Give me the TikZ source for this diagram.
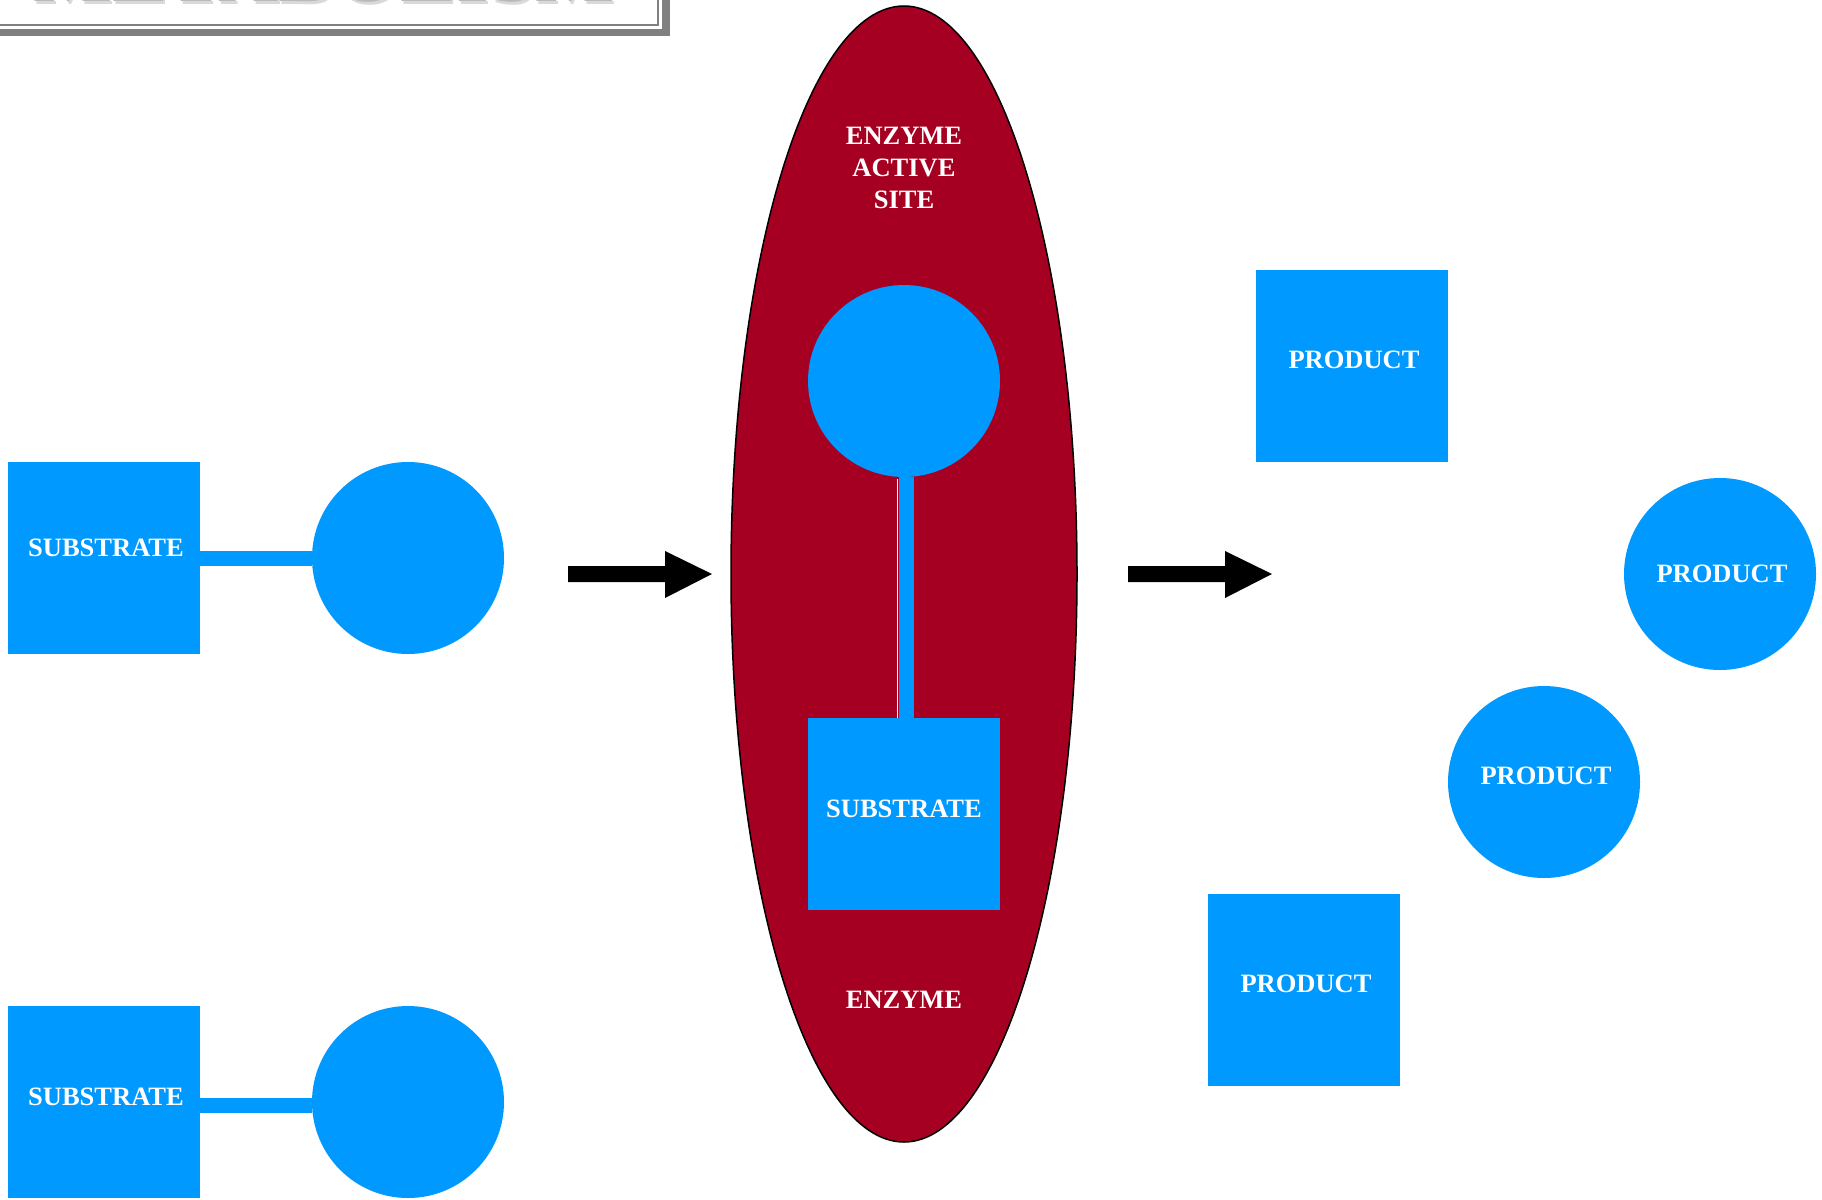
\documentclass[tikz,border=0pt]{standalone}
\usepackage{fontspec}
\setmainfont{Liberation Serif}
\usetikzlibrary{shapes.geometric}
\definecolor{molblue}{HTML}{0099FF}
\definecolor{enzred}{HTML}{A50021}
\definecolor{framegray}{HTML}{808080}
\begin{document}
\begin{tikzpicture}[x=1pt,y=-1pt,
  sqbox/.style={rectangle,fill=molblue,minimum size=192pt,inner sep=0pt,draw=none},
  molcirc/.style={circle,fill=molblue,minimum size=192pt,inner sep=0pt,draw=none},
  lbl/.style={text=white,font=\bfseries\fontsize{26.5}{32}\selectfont,align=center,inner sep=0pt},
  bond/.style={draw=molblue,line width=15pt},
  titletext/.style={font=\bfseries\fontsize{84}{90}\selectfont,anchor=base west,inner sep=0pt},
  blockarrow/.style={fill=black,draw=none}]
\useasboundingbox (0,0) rectangle (1822,1199);

% title frame (cut off at the top)
\fill[framegray] (-10,29) rectangle (670,36);
\fill[framegray] (662,-60) rectangle (670,36);
\draw[framegray,line width=1.5pt] (-10,25) -- (658,25) -- (658,-60);
\node[titletext,text=gray!30] (titleshadow) at (35,4.5) {METABOLISM};
\node[titletext,text=gray!55] (title) at (33,2) {METABOLISM};

% substrates on the left
\node[sqbox] (s1) at (104,558) {};
\node[molcirc] (c1) at (408,558) {};
\draw[bond] (s1.east) -- (c1.west);
\node[lbl] (s1t) at (106,548) {SUBSTRATE};

\node[sqbox] (s2) at (104,1102) {};
\node[molcirc] (c2) at (408,1102) {};
\draw[bond] ([yshift=-3pt]s2.east) -- ([yshift=-3pt]c2.west);
\node[lbl] (s2t) at (106,1097) {SUBSTRATE};

% arrow 1
\fill[blockarrow] (568,566) -- (665,566) -- (665,551) -- (712,574) -- (665,598) -- (665,582) -- (568,582) -- cycle;

% enzyme
\node[ellipse,fill=enzred,draw=black,line width=1.5pt,minimum width=346pt,minimum height=1136pt,inner sep=0pt] (enz) at (904,574) {};
\node[lbl] (ast) at (904,168) {ENZYME\\ACTIVE\\SITE};
\node[molcirc] (ec) at (904,381) {};
\node[sqbox] (es) at (904,814) {};
\draw[bond] ([xshift=2.5pt]ec.south) -- ([xshift=2.5pt]es.north);
\draw[white,line width=1.2pt] ([xshift=-6.5pt,yshift=-2pt]ec.south) -- ([xshift=-6.5pt]es.north);
\node[lbl] (est) at (904,809) {SUBSTRATE};
\node[lbl] (enzt) at (904,1000) {ENZYME};

% arrow 2
\fill[blockarrow] (1128,566) -- (1225,566) -- (1225,551) -- (1272,574) -- (1225,598) -- (1225,582) -- (1128,582) -- cycle;

% products
\node[sqbox] (p1) at (1352,366) {};
\node[lbl] (p1t) at (1354,360) {PRODUCT};
\node[molcirc] (p2) at (1720,574) {};
\node[lbl] (p2t) at (1722,574) {PRODUCT};
\node[molcirc] (p3) at (1544,782) {};
\node[lbl] (p3t) at (1546,776) {PRODUCT};
\node[sqbox] (p4) at (1304,990) {};
\node[lbl] (p4t) at (1306,984) {PRODUCT};
\end{tikzpicture}
\end{document}
